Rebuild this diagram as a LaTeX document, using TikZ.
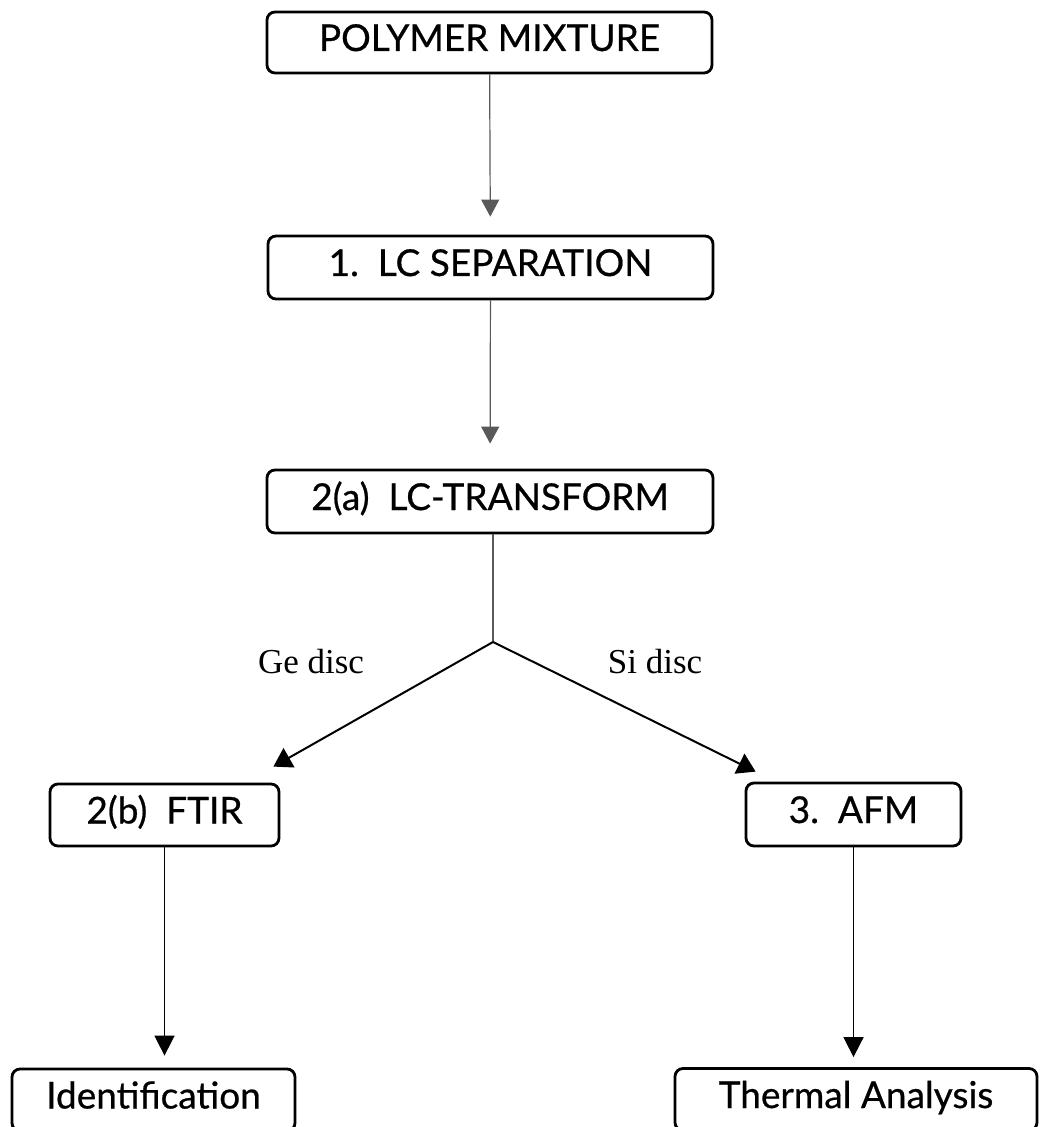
\documentclass[tikz,border=0pt]{standalone}
\usepackage{fontspec}
\setmainfont{Lato}
\newfontfamily\discfont{Liberation Serif}
\usetikzlibrary{arrows.meta}

\begin{document}
\begin{tikzpicture}[x=0.5pt, y=-0.5pt,
  box/.style={draw, rounded corners=4pt, line width=1.4pt, inner sep=0pt,
    text height=13pt, text depth=4.5pt,
    font=\addfontfeature{FakeBold=0.6}\fontsize{18.5}{22}\selectfont},
  flow/.style={-{Triangle[width=9pt,length=8.5pt]}, line width=0.6pt},
  lbl/.style={font=\discfont\fontsize{17.5}{20}\selectfont}]
\useasboundingbox (0,0) rectangle (1039,1127);
% boxes
\node[box, minimum width=222.5pt, minimum height=30.5pt] (mix) at (489.5,42.5) {POLYMER MIXTURE};
\node[box, minimum width=222.5pt, minimum height=31.5pt] (sep) at (490.5,267.5) {1.\ \ LC SEPARATION};
\node[box, minimum width=223pt, minimum height=31.5pt] (trans) at (490,501.5) {2(a)\ \ LC-TRANSFORM};
\node[box, minimum width=114.5pt, minimum height=31pt] (ftir) at (164.5,815) {2(b)\ \ FTIR};
\node[box, minimum width=107.5pt, minimum height=31.5pt] (afm) at (853.5,814.5) {3.\ \ AFM};
\node[box, minimum width=141.5pt, minimum height=31pt] (ident) at (153.5,1100) {Identification};
\node[box, minimum width=181pt, minimum height=31pt] (therm) at (856,1099.5) {Thermal Analysis};
\coordinate (fork) at (493,642);
% labels
\node[lbl] (ge) at (311,662) {Ge disc};
\node[lbl] (si) at (655,662) {Si disc};
% connectors
\draw[flow, gray!70!black, shorten >=9pt] (mix) -- (sep);
\draw[flow, gray!70!black, shorten >=12.5pt] (sep) -- (trans);
\draw[gray!70!black, line width=0.6pt] (trans.south -| fork) -- (fork);
\draw[flow, -{Triangle[width=11pt,length=9pt]}, line width=1pt] (fork) -- ([shift={(-7,-16)}]ftir.north east);
\draw[flow, -{Triangle[width=11pt,length=9pt]}, line width=1pt] (fork) -- ([shift={(11,-10)}]afm.north west);
\draw[flow, -{Triangle[width=10pt,length=10pt]}, line width=0.8pt, shorten >=6pt] (ftir.south) -- (ftir.south |- ident.north);
\draw[flow, -{Triangle[width=10pt,length=10pt]}, line width=0.8pt, shorten >=5pt] (afm.south) -- (afm.south |- therm.north);
\end{tikzpicture}
\end{document}
